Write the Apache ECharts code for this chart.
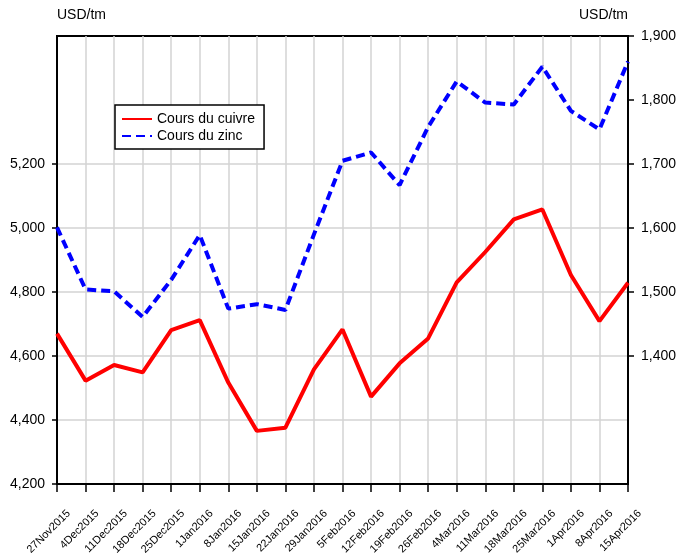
<!DOCTYPE html>
<html>
<head>
<meta charset="utf-8">
<script src="https://cdn.jsdelivr.net/npm/echarts@6/dist/echarts.min.js"></script>
<style>
  html, body { margin: 0; padding: 0; background: #fff; }
  #chart { width: 680px; height: 553px; }
</style>
</head>
<body>
<div id="chart"></div>
<script>
const dates = ['27Nov2015', '4Dec2015', '11Dec2015', '18Dec2015', '25Dec2015', '1Jan2016', '8Jan2016',
  '15Jan2016', '22Jan2016', '29Jan2016', '5Feb2016', '12Feb2016', '19Feb2016', '26Feb2016',
  '4Mar2016', '11Mar2016', '18Mar2016', '25Mar2016', '1Apr2016', '8Apr2016', '15Apr2016']

// cuivre, axe de gauche
const copper = [4670, 4523, 4572, 4549, 4681, 4712, 4517, 4366, 4376, 4558, 4683,
  4473, 4577, 4655, 4830, 4925, 5027, 5058, 4853, 4709, 4829]
// zinc, axe de droite
const zinc = [1601, 1504, 1501, 1461, 1519, 1589, 1474, 1481, 1472, 1590, 1705,
  1718, 1667, 1758, 1829, 1796, 1793, 1852, 1783, 1754, 1860]

const leftTicks = [4200, 4400, 4600, 4800, 5000, 5200]
const rightTicks = [1400, 1500, 1600, 1700, 1800, 1900]

const font = '"Liberation Sans", Arial, sans-serif'
const fmt = v => v.toLocaleString('en-US')

const chart = echarts.init(document.getElementById('chart'))
chart.setOption({
  animation: false,
  textStyle: { fontFamily: font, color: '#000' },
  grid: {
    left: 57, right: 52, top: 36, bottom: 69,
    outerBoundsMode: 'none', containLabel: false,
    show: true, borderColor: '#000', borderWidth: 2, backgroundColor: 'transparent'
  },
  legend: {
    orient: 'vertical',
    left: 115, top: 105,
    padding: [7, 9, 6, 6],
    itemGap: 3,
    itemWidth: 30, itemHeight: 14,
    backgroundColor: '#fff',
    borderColor: '#000', borderWidth: 1.5,
    itemStyle: { opacity: 0 },
    textStyle: { fontFamily: font, fontSize: 14, color: '#000' },
    data: ['Cours du cuivre', 'Cours du zinc']
  },
  xAxis: {
    type: 'category',
    data: dates,
    boundaryGap: false,
    axisLine: { lineStyle: { color: '#000', width: 2 } },
    axisTick: { show: true, length: 8, inside: false, alignWithLabel: true, lineStyle: { color: '#000', width: 1.5 } },
    axisLabel: {
      interval: 0, rotate: 45, margin: 16, fontSize: 11, color: '#000', fontFamily: font,
      verticalAlign: 'top', padding: [11, 0, 0, 0]
    },
    splitLine: { show: true, interval: 0, lineStyle: { color: '#d3d3d3', width: 1.5 } }
  },
  yAxis: [
    {
      type: 'value',
      min: 4200, max: 5600, interval: 200,
      name: 'USD/tm', nameLocation: 'end', nameGap: 14,
      nameTextStyle: { align: 'left', fontSize: 14, color: '#000' },
      axisLine: { show: true, lineStyle: { color: '#000', width: 2 } },
      axisTick: { show: true, length: 5, customValues: leftTicks, lineStyle: { color: '#000', width: 1.5 } },
      axisLabel: { margin: 12, fontSize: 14, color: '#000', customValues: leftTicks, formatter: fmt },
      splitLine: { show: true, lineStyle: { color: '#d3d3d3', width: 1.5 } }
    },
    {
      type: 'value',
      min: 1200, max: 1900, interval: 100,
      name: 'USD/tm', nameLocation: 'end', nameGap: 14,
      nameTextStyle: { align: 'right', fontSize: 14, color: '#000' },
      axisLine: { show: true, lineStyle: { color: '#000', width: 2 } },
      axisTick: { show: true, length: 6, customValues: rightTicks, lineStyle: { color: '#000', width: 1.5 } },
      axisLabel: { margin: 13, fontSize: 14, color: '#000', customValues: rightTicks, formatter: fmt },
      splitLine: { show: false }
    }
  ],
  series: [
    {
      name: 'Cours du cuivre',
      type: 'line',
      yAxisIndex: 0,
      data: copper,
      symbol: 'none',
      itemStyle: { color: '#ff0000' },
      lineStyle: { color: '#ff0000', width: 4 }
    },
    {
      name: 'Cours du zinc',
      type: 'line',
      yAxisIndex: 1,
      data: zinc,
      symbol: 'none',
      itemStyle: { color: '#0000ff' },
      lineStyle: { color: '#0000ff', width: 4, type: [9, 5] }
    }
  ]
})
</script>
</body>
</html>
